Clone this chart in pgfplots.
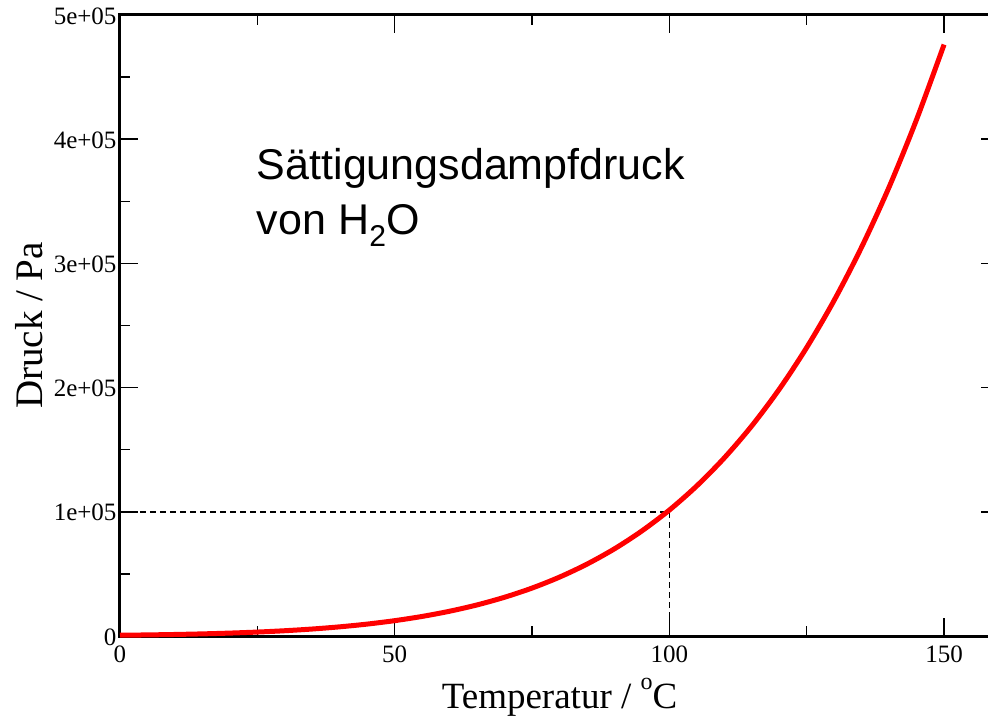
\documentclass[border=0pt]{standalone}
\usepackage{pgfplots}
\pgfplotsset{compat=1.18}
\usepackage{pgfplotstable}
\usepackage{fontspec}
\setmainfont{Liberation Serif}
\newfontfamily\annot{Liberation Sans}
\usetikzlibrary{calc}

% saturation vapour pressure of water, T in degC, p in Pa
\pgfplotstableread{
T p
0 611
5 873
10 1228
15 1706
20 2339
25 3170
30 4246
35 5629
40 7384
45 9595
50 12350
55 15760
60 19950
65 25030
70 31200
75 38580
80 47410
85 57870
90 70180
95 84610
100 101400
105 120900
110 143400
115 169200
120 198700
125 232300
130 270300
135 313200
140 361500
145 415900
150 476200
}\psat

\begin{document}
\begin{tikzpicture}
\begin{axis}[
    scale only axis,
    width=879pt,
    height=621pt,
    xmin=0, xmax=160,
    ymin=0, ymax=5e5,
    xtick={0,50,100,150},
    xticklabels={0,50,100,150},
    minor xtick={25,75,125},
    ytick={0,1e5,2e5,3e5,4e5,5e5},
    yticklabels={0,1e+05,2e+05,3e+05,4e+05,5e+05},
    minor ytick={0.5e5,1.5e5,2.5e5,3.5e5,4.5e5},
    scaled y ticks=false,
    tick align=inside,
    major tick length=18pt,
    minor tick length=10pt,
    every tick/.style={black, line width=1.5pt},
    axis line style={line width=3pt},
    ticklabel style={font=\fontsize{25}{28}\selectfont},
    xticklabel style={yshift=-6pt},
    yticklabel style={yshift=-1pt},
    xlabel={Temperatur / \raisebox{19pt}{\fontsize{24}{24}\selectfont o}C},
    ylabel={Druck / Pa},
    xlabel style={font=\fontsize{37}{40}\selectfont,
                  at={(axis description cs:0.5,0)}, anchor=base, yshift=-72pt},
    ylabel style={font=\fontsize{39}{42}\selectfont,
                  at={(axis description cs:0,0.5)}, anchor=center, yshift=91pt},
    clip=false,
]
\addplot[black, line width=1.5pt, dash pattern=on 6pt off 4pt] coordinates {(0,1e5) (100,1e5) (100,0)};
\addplot[red, line width=5pt, smooth] table[x=T, y=p] {\psat};
\node[anchor=north west, align=left, inner sep=0pt,
      font=\annot\fontsize{43}{55}\selectfont] at (axis cs:24.9,3.93e5)
      {Sättigungsdampfdruck\\von H\textsubscript{2}O};
\coordinate (BL) at (rel axis cs:0,0);
\end{axis}
\pgfresetboundingbox
\path ($(BL)+(-120pt,-79pt)$) rectangle ($(BL)+(868pt,636pt)$);
\end{tikzpicture}
\end{document}
